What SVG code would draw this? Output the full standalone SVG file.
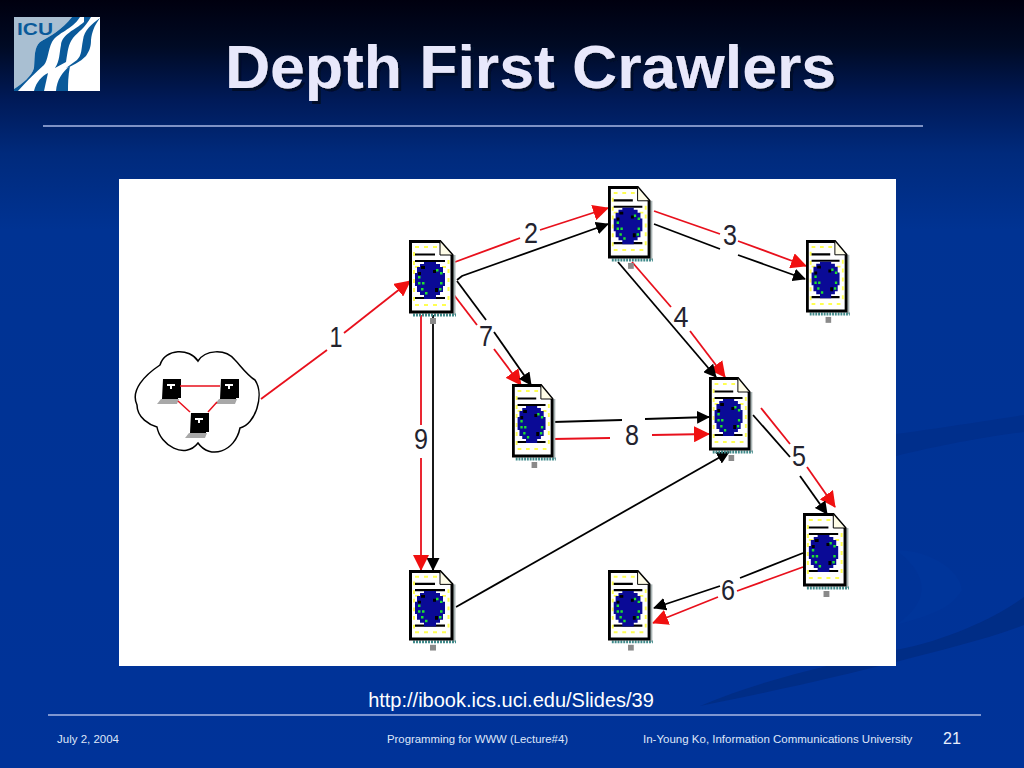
<svg xmlns="http://www.w3.org/2000/svg" width="1024" height="768" viewBox="0 0 1024 768">
<style>
text{font-family:"Liberation Sans",Arial,sans-serif}
.r{fill:none;stroke:#e8101c;stroke-width:1.8}
.k{fill:none;stroke:#000;stroke-width:1.8}
.ra{marker-end:url(#ra)}
.ka{marker-end:url(#ka)}
.n{font-size:29px;text-anchor:middle;fill:#23232e}
.f{font-size:11.5px;fill:#dfe6f8}
.rule{stroke:#a9b8e4;stroke-width:1.3}
.logo-b{fill:#0a5a9a}
</style>
<defs>
<linearGradient id="bg" x1="0" y1="0" x2="0" y2="1">
<stop offset="0" stop-color="#00000f"/><stop offset="0.06" stop-color="#000a24"/><stop offset="0.13" stop-color="#001a58"/><stop offset="0.2" stop-color="#002a7c"/><stop offset="0.3" stop-color="#003393"/><stop offset="1" stop-color="#003399"/>
</linearGradient>
<filter id="sh" x="-5%" y="-20%" width="110%" height="140%"><feDropShadow dx="3" dy="3" stdDeviation="0.4" flood-color="#060c2c" flood-opacity="1"/></filter>
<marker id="ra" viewBox="0 0 16 16" refX="15" refY="8" markerWidth="16" markerHeight="16" markerUnits="userSpaceOnUse" orient="auto"><path d="M0,0L16,8L0,16Z" fill="#f01010"/></marker>
<marker id="ka" viewBox="0 0 13 13" refX="12" refY="6.5" markerWidth="13" markerHeight="13" markerUnits="userSpaceOnUse" orient="auto"><path d="M0,0L13,6.5L0,13Z" fill="#000"/></marker>
<symbol id="doc" viewBox="0 0 44 73" overflow="visible" preserveAspectRatio="none">
<rect x="44" y="15" width="2.5" height="60" fill="#a9b4b4"/>
<path d="M4,75H47" stroke="#3f8a8a" stroke-width="3" stroke-dasharray="2 1"/>
<rect x="21" y="78" width="6" height="6" fill="#8a8a8a"/>
<path d="M1.5,1.5H31L43,15V72H1.5Z" fill="#fff" stroke="#000" stroke-width="3"/>
<path d="M31,1.5V15H43" fill="#fffde8" stroke="#000" stroke-width="1"/>
<path d="M6,7H28M6,65H40M39.5,20V62M5,12V62" stroke="#ffff50" stroke-width="2" stroke-dasharray="4 5" fill="none"/>
<path d="M6,27H38" stroke="#ffff50" stroke-width="2" stroke-dasharray="4 5"/>
<path d="M6,14.5H26M6,21H36M6,58H36" stroke="#000" stroke-width="2.2"/>
<path d="M15,22H27V24H31V27H34V33H36V46H34V52H31V55H27V59H15V55H11V52H8V46H6V33H8V27H11V24H15Z" fill="#0a0a96"/>
<path d="M9,36h2.5v2.5h-2.5zM9,42h2.5v2.5h-2.5zM13,42h2.5v2.5h-2.5zM12,48h2.5v2.5h-2.5zM16,52h2.5v2.5h-2.5zM27,29h2.5v2.5h-2.5zM31,32h2.5v2.5h-2.5zM31,42h2.5v2.5h-2.5zM30,48h2.5v2.5h-2.5z" fill="#20e030"/>
<path d="M12,26h4v3h-4zM24,30h3v3h-3zM9,32h3v3h-3zM26,48h3v4h-3z" fill="#000"/>
</symbol>
<symbol id="pc" viewBox="0 0 24 27" width="24" height="27" overflow="visible">
<path d="M6,0H24V19H21V20H5Z" fill="#000"/>
<path d="M10,5h8v2h-3v3h-2v-3h-3z" fill="#fff"/>
<path d="M4,20H22L20,25H0Z" fill="#a8a8a8"/>
</symbol>
</defs>
<rect width="1024" height="768" fill="url(#bg)"/>
<g id="background-swooshes">
<path d="M896,434C940,428 990,420 1024,415V432C990,436 940,445 896,456Z" fill="#002f8c"/>
<path d="M896,650C950,640 1000,615 1024,597V625C985,640 940,650 896,662C840,676 780,690 700,706C760,680 830,665 896,650Z" fill="#002d86"/>
<path d="M896,550C930,550 960,570 962,590C950,610 930,615 896,625C925,605 935,580 896,550Z" fill="#00359a"/>
</g>
<g id="logo">
<rect x="14" y="17" width="86" height="74" fill="#fff"/>
<path d="M14,17H72C62,30 50,36 40,42C34,48 35,55 34,68C32,76 22,84 14,89Z" fill="#a9bfd2"/>
<path class="logo-b" d="M72,17H80C72,30 58,32 52,42C48,50 48,60 44,65C36,72 28,80 18,91H14V89C22,84 32,76 34,68C35,55 34,48 40,42C50,36 62,30 72,17Z"/>
<path class="logo-b" d="M84,22C75,30 62,34 61,45C59,55 60,60 55,68L66,62C68,50 68,45 73,38C78,32 85,28 91,17H84Z"/>
<path class="logo-b" d="M100,18C92,24 84,30 83,40C81,50 82,55 77,60L66,68C72,66 80,62 86,56C90,50 91,46 91,40C92,32 94,26 100,18Z"/>
<path class="logo-b" d="M34,91C36,82 42,76 48,73L44,91Z"/>
<path class="logo-b" d="M56,91C57,80 62,72 70,66C68,76 68,84 68,91Z"/>
<text x="17" y="35" font-size="17" font-weight="700" class="logo-b" textLength="36" lengthAdjust="spacingAndGlyphs">ICU</text>
</g>
<text id="title" x="530.5" y="88" font-size="62" font-weight="700" text-anchor="middle" fill="#e8e8fb" filter="url(#sh)" textLength="611" lengthAdjust="spacingAndGlyphs">Depth First Crawlers</text>
<line class="rule" x1="43" y1="126" x2="923" y2="126"/>
<rect id="panel" x="119" y="179" width="777" height="487" fill="#fff"/>
<g id="connectors">
<path class="r" d="M261,399L327,350"/><path class="r ra" d="M344,333L410,281"/>
<path class="r" d="M455,262L520,238"/><path class="r ra" d="M540,230L608,208"/>
<path class="k ka" d="M457,280L462,276L608,224"/>
<path class="r" d="M654,211L720,234"/><path class="r ra" d="M738,241L806,266"/>
<path class="k" d="M654,224L720,249"/><path class="k ka" d="M738,255L805,279"/>
<path class="r" d="M632,262L671,307"/><path class="r ra" d="M690,331L725,377"/>
<path class="k ka" d="M618,262L716,377"/>
<path class="r" d="M761,408L790,444"/><path class="r ra" d="M807,467L835,507"/>
<path class="k" d="M753,415L790,457"/><path class="k ka" d="M800,476L827,514"/>
<path class="r" d="M803,567L737,591"/><path class="r ra" d="M718,597L653,623"/>
<path class="k" d="M803,553L740,578"/><path class="k ka" d="M720,586L654,608"/>
<path class="r" d="M454,295L477,325"/><path class="r ra" d="M494,349L521,385"/>
<path class="k" d="M457,281L486,320"/><path class="k ka" d="M494,332L531,385"/>
<path class="r" d="M553,439L610,438"/><path class="r ra" d="M652,435L709,434"/>
<path class="k" d="M553,422L622,420"/><path class="k ka" d="M645,419L709,417"/>
<path class="k ka" d="M433,315V570"/>
<path class="r" d="M421,315V425"/><path class="r ra" d="M421,458V570"/>
<path class="k ka" d="M456,607L729,452"/>
</g>
<g id="labels">
<text class="n" x="336" y="347" textLength="13" lengthAdjust="spacingAndGlyphs">1</text>
<text class="n" x="531" y="243" textLength="14" lengthAdjust="spacingAndGlyphs">2</text>
<text class="n" x="730" y="245" textLength="14" lengthAdjust="spacingAndGlyphs">3</text>
<text class="n" x="681" y="327" textLength="15" lengthAdjust="spacingAndGlyphs">4</text>
<text class="n" x="799" y="466" textLength="14" lengthAdjust="spacingAndGlyphs">5</text>
<text class="n" x="728" y="600" textLength="14" lengthAdjust="spacingAndGlyphs">6</text>
<text class="n" x="486" y="346" textLength="14" lengthAdjust="spacingAndGlyphs">7</text>
<text class="n" x="632" y="445" textLength="14" lengthAdjust="spacingAndGlyphs">8</text>
<text class="n" x="421" y="449" textLength="14" lengthAdjust="spacingAndGlyphs">9</text>
</g>
<g id="cloud">
<path d="M198,361C190,348 165,348 160,365C145,375 130,390 137,405C137,418 150,425 157,427C160,445 185,460 198,443C210,460 235,452 240,428C255,425 265,395 255,380C247,375 240,365 235,360C225,348 205,350 198,361Z" fill="#fff" stroke="#000" stroke-width="1.5"/>
<use href="#pc" x="157" y="379"/>
<use href="#pc" x="215" y="379"/>
<use href="#pc" x="185" y="413"/>
<path d="M180,386H220M178,401L190,412M208,412L217,402" fill="none" stroke="#e8101c" stroke-width="1.5"/>
</g>
<g id="node1"><use href="#doc" x="409" y="240" width="44" height="73"/></g>
<g id="node2"><use href="#doc" x="608" y="186" width="42" height="72"/></g>
<g id="node3"><use href="#doc" x="806" y="240" width="41" height="72"/></g>
<g id="node4"><use href="#doc" x="709" y="377" width="41" height="73"/></g>
<g id="node5"><use href="#doc" x="512" y="384" width="41" height="73"/></g>
<g id="node6"><use href="#doc" x="803" y="513" width="43" height="73"/></g>
<g id="node7"><use href="#doc" x="608" y="570" width="42" height="70"/></g>
<g id="node8"><use href="#doc" x="409" y="570" width="44" height="70"/></g>
<text x="511" y="707" font-size="20" fill="#fff" text-anchor="middle">http://ibook.ics.uci.edu/Slides/39</text>
<line class="rule" x1="48" y1="715" x2="981" y2="715"/>
<text class="f" x="57" y="743">July 2, 2004</text>
<text class="f" x="387" y="743" textLength="181" lengthAdjust="spacingAndGlyphs">Programming for WWW (Lecture#4)</text>
<text class="f" x="643" y="743">In-Young Ko, Information Communications University</text>
<text x="943" y="744" font-size="16" fill="#e8eefc">21</text>
</svg>
